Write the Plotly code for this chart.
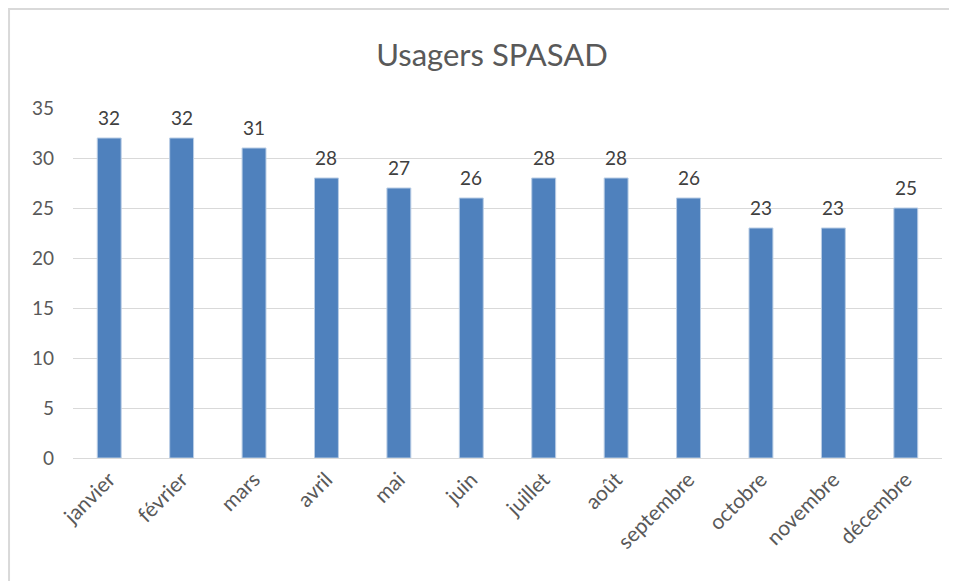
import plotly.graph_objects as go

mois = ["janvier", "février", "mars", "avril", "mai", "juin", "juillet", "août",
        "septembre", "octobre", "novembre", "décembre"]
usagers = [32, 32, 31, 28, 27, 26, 28, 28, 26, 23, 23, 25]

fig = go.Figure()
fig.add_trace(go.Bar(
    x=mois, y=usagers,
    marker=dict(color="#4F81BD", line=dict(color="#B9CDE5", width=1)),
))

# étiquettes de valeur un peu au-dessus des barres
for m, v in zip(mois, usagers):
    fig.add_annotation(x=m, y=v, text=str(v), showarrow=False, yanchor="bottom", yshift=7,
                       font=dict(size=19, color="#404040", family="Lato"))

fig.update_layout(
    width=949, height=573,
    margin=dict(l=65, r=15, t=100, b=123),
    paper_bgcolor="white", plot_bgcolor="white",
    font=dict(family="Lato", color="#595959"),
    title=dict(text="Usagers SPASAD", x=0.51, xanchor="center", y=0.918, yanchor="middle",
               font=dict(size=31, color="#595959", family="Lato")),
    bargap=0.67,
    showlegend=False,
    shapes=[dict(type="rect", xref="paper", yref="paper", x0=-0.0736, x1=1.2, y0=-0.5, y1=1.283,
                 line=dict(color="#D9D9D9", width=2), layer="below")],
)
fig.update_xaxes(tickangle=-45, tickfont=dict(size=21, color="#595959"), showline=True,
                 linecolor="#D9D9D9", linewidth=1, ticks="")
fig.update_yaxes(range=[0, 35], dtick=5, tickfont=dict(size=19, color="#595959"),
                 gridcolor="#D9D9D9", gridwidth=1, zeroline=False, ticklabelstandoff=18)

fig.write_html("out.html")
